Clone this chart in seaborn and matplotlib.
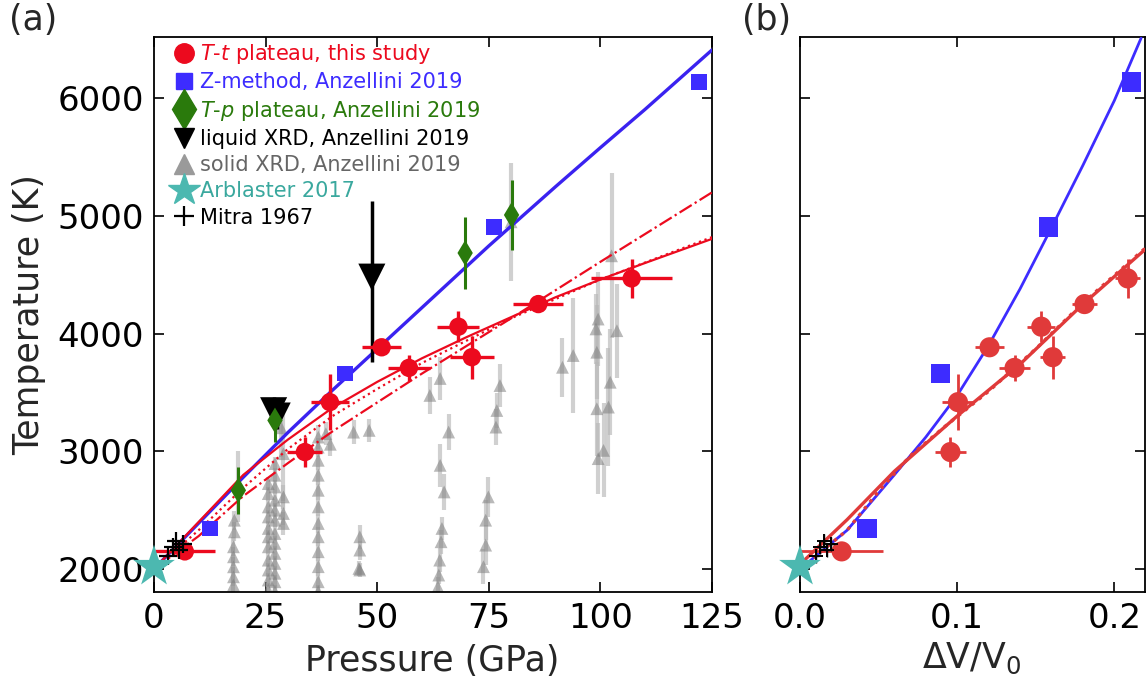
import numpy as np
import pandas as pd
import matplotlib
matplotlib.use("Agg")
import matplotlib.pyplot as plt
import seaborn as sns
from matplotlib.lines import Line2D

# ---------------- data ----------------
# T-t plateau, this study (panel a: pressure, panel b: dV/V0)
tt_P = [6.9, 33.8, 39.4, 51.0, 57.1, 68.2, 71.2, 86.1, 107.0]
tt_Perr = [6.7, 3.9, 4.2, 4.3, 4.7, 4.7, 4.9, 5.6, 9.1]
tt_T = [2150, 2994, 3418, 3884, 3709, 4059, 3800, 4251, 4469]
tt_Terr = [0, 130, 240, 60, 113, 134, 184, 60, 167]
tt_dV = [0.0265, 0.0957, 0.1005, 0.1206, 0.1365, 0.1535, 0.1608, 0.181, 0.2085]
tt_dVerr = [0.0265, 0.010, 0.010, 0.009, 0.010, 0.009, 0.008, 0.008, 0.008]

# Z-method, Anzellini 2019
zm_P = [12.5, 42.8, 76.2, 122.1]
zm_T = [2345, 3661, 4907, 6136]
zm_dV = [0.0428, 0.0895, 0.158, 0.211]

# T-p plateau, Anzellini 2019
tp_P = [18.9, 27.1, 69.7, 80.1]
tp_T = [2669, 3263, 4685, 5008]
tp_Terr = [200, 180, 310, 300]

# liquid XRD, Anzellini 2019
lq_P = [48.8, 26.8, 27.6]
lq_T = [4480, 3345, 3300]
lq_Tlo = [720, 110, 110]
lq_Thi = [650, 120, 120]

# solid XRD, Anzellini 2019
sx_P = [18.0, 18.0, 17.8, 17.8, 17.8, 17.8, 17.8, 18.9,
        25.6, 25.6, 25.6, 25.6, 25.6, 25.6, 25.6, 25.6, 25.6, 25.6, 25.6,
        27.1, 27.1, 27.1, 27.1, 27.1, 27.1, 27.1, 27.1, 27.1, 27.1, 27.1, 27.1, 27.1,
        29.0, 29.0, 29.0, 29.0, 28.5,
        36.8, 36.8, 36.8, 36.8, 36.8, 36.8, 36.8, 36.8, 36.8, 36.8, 36.8, 36.8,
        38.5, 39.5, 44.7, 48.2, 46.1, 46.1, 46.1, 45.9,
        61.8, 64.1, 66.0, 64.1, 65.0, 64.5, 64.3, 64.0, 63.8, 63.6,
        74.9, 74.3, 74.3, 73.8, 77.5, 76.8, 76.6, 80.0,
        91.5, 93.9, 99.5, 99.0, 99.2, 99.2, 99.5, 100.7, 101.8, 102.2, 103.7, 102.5]
sx_T = [2415, 2316, 2189, 2104, 2019, 1934, 1864, 2700,
        2726, 2641, 2528, 2443, 2345, 2274, 2189, 2076, 1992, 1907, 1822,
        2896, 2797, 2698, 2585, 2500, 2415, 2302, 2218, 2133, 2048, 1964, 1892, 1808,
        2980, 2613, 2472, 2387, 3200,
        3121, 3036, 2924, 2797, 2669, 2528, 2387, 2274, 2147, 2020, 1892, 1808,
        3150, 3060, 3163, 3178, 2274, 2161, 1992, 2005,
        3475, 3619, 3164, 2881, 2655, 2345, 2232, 2076, 1949, 1850,
        2613, 2415, 2203, 2020, 3559, 3347, 3206, 4950,
        3714, 3814, 4124, 4040, 3842, 3362, 2938, 3008, 3376, 3587, 4025, 4661]
sx_Terr = [80, 80, 80, 80, 80, 80, 80, 300,
           60, 60, 60, 60, 60, 60, 60, 60, 60, 60, 60,
           60, 60, 60, 60, 60, 60, 60, 60, 60, 60, 60, 60, 60,
           400, 100, 100, 100, 250,
           100, 80, 80, 80, 80, 80, 80, 80, 80, 80, 80, 60,
           100, 100, 100, 100, 100, 80, 60, 60,
           155, 180, 150, 180, 150, 100, 100, 100, 80, 80,
           170, 170, 170, 150, 180, 150, 150, 500,
           250, 490, 400, 300, 400, 400, 300, 400, 500, 450, 400, 700]

# Arblaster 2017
ab_P = [0.0]
ab_T = [2020]
ab_dV = [0.0]

# Mitra 1967
mi_P = [3.2, 4.3, 5.0, 5.6, 6.4]
mi_T = [2110, 2190, 2240, 2160, 2210]
mi_dV = [0.010, 0.013, 0.015, 0.017, 0.020]

# fitted melting curves, panel (a)
blue_P = [0, 10, 20, 30, 40, 50, 60, 75, 90, 100, 110, 125]
blue_T = [2000, 2390, 2780, 3160, 3520, 3870, 4220, 4745, 5250, 5580, 5905, 6410]
rs_P = [0, 5, 10, 20, 30, 40, 50, 60, 70, 80, 90, 100, 110, 125]
rs_T = [2000, 2200, 2400, 2800, 3100, 3370, 3590, 3790, 3970, 4140, 4310, 4460, 4600, 4805]
rd_P = [0, 10, 20, 30, 40, 50, 60, 80, 100, 125]
rd_T = [2000, 2330, 2690, 3020, 3300, 3530, 3750, 4130, 4460, 4820]
rdd_P = [0, 10, 20, 30, 40, 60, 80, 100, 125]
rdd_T = [2000, 2280, 2620, 2900, 3170, 3660, 4130, 4610, 5200]

# fitted curves, panel (b)
bb_dV = [0.0, 0.03, 0.06, 0.08, 0.10, 0.12, 0.14, 0.16, 0.18, 0.20, 0.217]
bb_T = [2000, 2330, 2800, 3120, 3475, 3900, 4380, 4900, 5430, 5980, 6510]
rbs_dV = [0.0, 0.03, 0.06, 0.10, 0.14, 0.18, 0.22]
rbs_T = [2040, 2420, 2830, 3300, 3740, 4250, 4720]
rbd_dV = [0.0, 0.03, 0.05, 0.07, 0.093, 0.12, 0.15, 0.18, 0.22]
rbd_T = [2000, 2330, 2660, 2960, 3220, 3510, 3870, 4260, 4730]

legend_labels = ["$T$-$t$ plateau, this study", "Z-method, Anzellini 2019",
                 "$T$-$p$ plateau, Anzellini 2019", "liquid XRD, Anzellini 2019",
                 "solid XRD, Anzellini 2019", "Arblaster 2017", "Mitra 1967"]

# ---------------- style ----------------
RED = "#ec0a1e"
RED_B = "#e03a3a"
BLUE = "#3a22f0"
BLUE_SQ = "#3d2cff"
GREEN = "#2a7a0c"
TEAL = "#4cb8b0"
GRAY = "#808080"

sns.set_theme(style="ticks")
plt.rcParams["font.family"] = ["DejaVu Sans"]
plt.rcParams["mathtext.fontset"] = "dejavusans"

fig = plt.figure(figsize=(11.48, 6.84), dpi=100)
W, H = 1148, 684
axa = fig.add_axes([154 / W, 92 / H, 558 / W, 555 / H])
axb = fig.add_axes([800 / W, 92 / H, 345 / W, 555 / H])

# ---------------- panel (a) ----------------
axa.errorbar(sx_P, sx_T, yerr=sx_Terr, fmt="none", ecolor="#b8b8b8", alpha=0.65,
             elinewidth=3.0, zorder=1)
sns.scatterplot(x=sx_P, y=sx_T, ax=axa, marker="^", color=GRAY, alpha=0.55, s=85,
                edgecolor="none", zorder=2, legend=False)

sns.lineplot(x=blue_P, y=blue_T, ax=axa, color=BLUE, lw=2.4, sort=False, estimator=None, zorder=4)
sns.lineplot(x=rs_P, y=rs_T, ax=axa, color=RED, lw=1.6, sort=False, estimator=None, zorder=4)
sns.lineplot(x=rd_P, y=rd_T, ax=axa, color=RED, lw=1.6, linestyle=":", sort=False, estimator=None, zorder=4)
sns.lineplot(x=rdd_P, y=rdd_T, ax=axa, color=RED, lw=1.6, linestyle="-.", sort=False, estimator=None, zorder=4)

axa.errorbar(tp_P, tp_T, yerr=tp_Terr, fmt="none", ecolor=GREEN, elinewidth=2.2, zorder=5)
sns.scatterplot(x=tp_P, y=tp_T, ax=axa, marker="d", color=GREEN, s=170, edgecolor="none",
                zorder=6, legend=False)
axa.errorbar(lq_P, lq_T, yerr=[lq_Tlo, lq_Thi], fmt="none", ecolor="black", elinewidth=2.5, zorder=5)
sns.scatterplot(x=lq_P, y=lq_T, ax=axa, marker="v", color="black", s=380, edgecolor="none",
                zorder=5, legend=False)
sns.scatterplot(x=zm_P, y=zm_T, ax=axa, marker="s", color=BLUE_SQ, s=125, edgecolor="none",
                zorder=6, legend=False)
axa.errorbar(tt_P, tt_T, xerr=tt_Perr, yerr=tt_Terr, fmt="none", ecolor=RED, elinewidth=2.4, zorder=6)
sns.scatterplot(x=tt_P, y=tt_T, ax=axa, marker="o", color=RED, s=175, edgecolor="none",
                zorder=7, legend=False)
axa.errorbar(mi_P, mi_T, xerr=1.0, yerr=60, fmt="none", ecolor="black", elinewidth=1.2, zorder=7)
sns.scatterplot(x=mi_P, y=mi_T, ax=axa, marker="+", color="black", s=150, linewidth=1.6,
                zorder=8, legend=False)
sns.scatterplot(x=ab_P, y=ab_T, ax=axa, marker="*", color=TEAL, s=1000, edgecolor="none",
                zorder=9, legend=False, clip_on=False)

axa.set_xlim(0, 125)
axa.set_ylim(1805, 6520)
axa.set_xticks([0, 25, 50, 75, 100, 125])
axa.set_yticks([2000, 3000, 4000, 5000, 6000])
axa.set_xlabel("")
axa.set_ylabel("")

# legend
handles = [
    Line2D([], [], ls="none", marker="o", color=RED, ms=14),
    Line2D([], [], ls="none", marker="s", color=BLUE_SQ, ms=12),
    Line2D([], [], ls="none", marker="d", color=GREEN, ms=20),
    Line2D([], [], ls="none", marker="v", color="black", ms=14),
    Line2D([], [], ls="none", marker="^", color="#9a9a9a", ms=14),
    Line2D([], [], ls="none", marker="*", color=TEAL, ms=24),
    Line2D([], [], ls="none", marker="+", color="black", ms=15, mew=1.6),
]
leg = axa.legend(handles, legend_labels, loc="upper left", bbox_to_anchor=(0.025, 1.0),
                 frameon=False, fontsize=15, handlelength=1.0, handletextpad=0.3,
                 labelspacing=0.3, borderaxespad=0.15, borderpad=0.1)
for txt, c in zip(leg.get_texts(), [RED, BLUE_SQ, GREEN, "black", "#666666", "#3aa89e", "black"]):
    txt.set_color(c)

# ---------------- panel (b) ----------------
sns.lineplot(x=bb_dV, y=bb_T, ax=axb, color=BLUE_SQ, lw=2.0, sort=False, estimator=None, zorder=3)
sns.lineplot(x=rbs_dV, y=rbs_T, ax=axb, color=RED_B, lw=2.4, sort=False, estimator=None, zorder=3)
sns.lineplot(x=rbd_dV, y=rbd_T, ax=axb, color=RED_B, lw=2.4, linestyle=":", sort=False, estimator=None, zorder=3)
sns.scatterplot(x=zm_dV, y=zm_T, ax=axb, marker="s", color=BLUE_SQ, s=200, edgecolor="none",
                zorder=5, legend=False)
axb.errorbar(tt_dV, tt_T, xerr=tt_dVerr, yerr=tt_Terr, fmt="none", ecolor=RED_B, elinewidth=2.0, zorder=5)
sns.scatterplot(x=tt_dV, y=tt_T, ax=axb, marker="o", color=RED_B, s=210, edgecolor="none",
                zorder=6, legend=False)
axb.errorbar(mi_dV, mi_T, xerr=0.002, yerr=60, fmt="none", ecolor="black", elinewidth=1.0, zorder=7)
sns.scatterplot(x=mi_dV, y=mi_T, ax=axb, marker="+", color="black", s=110, linewidth=1.4,
                zorder=8, legend=False)
sns.scatterplot(x=ab_dV, y=ab_T, ax=axb, marker="*", color=TEAL, s=1000, edgecolor="none",
                zorder=9, legend=False, clip_on=False)

axb.set_xlim(0, 0.2195)
axb.set_ylim(1805, 6520)
axb.set_xticks([0.0, 0.1, 0.2])
axb.set_xticklabels(["0.0", "0.1", "0.2"])
axb.set_yticks([2000, 3000, 4000, 5000, 6000])
axb.set_yticklabels([])
axb.set_xlabel("")
axb.set_ylabel("")

for ax in (axa, axb):
    ax.tick_params(direction="in", length=7, width=1.2, top=True, right=True,
                   labelsize=24.5, pad=7, colors="black")
    for sp in ax.spines.values():
        sp.set_visible(True)
        sp.set_linewidth(1.3)
        sp.set_color("black")

fig.text(432 / W, 1 - 661 / H, "Pressure (GPa)", ha="center", va="center", fontsize=25)
fig.text(972 / W, 1 - 658 / H, "ΔV/V$_0$", ha="center", va="center", fontsize=25)
fig.text(29 / W, 1 - 315 / H, "Temperature (K)", ha="center", va="center",
         rotation=90, fontsize=25)
fig.text(33 / W, 1 - 20 / H, "(a)", ha="center", va="center", fontsize=25)
fig.text(767 / W, 1 - 20 / H, "(b)", ha="center", va="center", fontsize=25)

fig.savefig("out.png", dpi=100)
